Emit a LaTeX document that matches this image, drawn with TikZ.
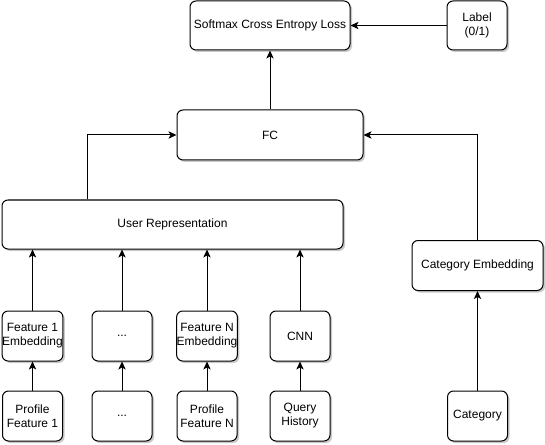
\documentclass[tikz,border=0pt]{standalone}
\usepackage{fontspec}
\setmainfont{Liberation Sans}
\usetikzlibrary{arrows.meta,shadows}
\begin{document}
\begin{tikzpicture}[x=0.75pt,y=-0.75pt,
  box/.style={draw,rounded corners=4.5pt,fill=white,line width=0.75pt,inner sep=0pt,
    align=center,font=\fontsize{9}{10.5}\selectfont,
    drop shadow={shadow xshift=1.5pt,shadow yshift=-1.5pt,fill=black!35,opacity=0.6}},
  small/.style={box,minimum width=45pt,minimum height=37.5pt},
  arr/.style={draw,line width=0.75pt,-{Stealth[length=6pt,width=5.5pt,inset=1.5pt]}}]
\useasboundingbox (0,0) rectangle (545,445);
\node[box,minimum width=120pt,minimum height=36.75pt] (loss) at (270,25.5) {Softmax Cross Entropy Loss};
\node[small,minimum height=36.75pt] (label) at (477,25.5) {Label\\(0/1)};
\node[box,minimum width=139.5pt,minimum height=37.5pt] (fc) at (270,135) {FC};
\node[box,minimum width=255.75pt,minimum height=36.75pt] (ur) at (172.5,224.5) {User Representation};
\node[box,minimum width=98.25pt,minimum height=37.5pt] (ce) at (477.5,265.5) {Category Embedding};
\node[small] (cat) at (477.5,416) {Category};
\node[small] (e1) at (32.5,336) {Feature 1\\Embedding};
\node[small] (e2) at (122,336) {...};
\node[small] (e3) at (207,336) {Feature N\\Embedding};
\node[small] (e4) at (300,336) {CNN};
\node[small] (p1) at (32.5,416) {Profile\\Feature 1};
\node[small] (p2) at (122,416) {...};
\node[small] (p3) at (207,416) {Profile\\Feature N};
\node[small] (p4) at (300,416) {Query\\History};
\coordinate (urx) at (87,200);
\draw[arr] (label.west) -- (loss.east);
\draw[arr] (fc.north) -- (loss.south);
\draw[arr] (ur.north -| urx) |- (fc.west);
\draw[arr] (ce.north) |- (fc.east);
\draw[arr] (cat.north) -- (ce.south);
\foreach \e in {e1,e2,e3,e4}{\draw[arr] (\e.north) -- (\e.north |- ur.south);}
\draw[arr] (p1.north) -- (e1.south);
\draw[arr] (p2.north) -- (e2.south);
\draw[arr] (p3.north) -- (e3.south);
\draw[arr] (p4.north) -- (e4.south);
\end{tikzpicture}
\end{document}
